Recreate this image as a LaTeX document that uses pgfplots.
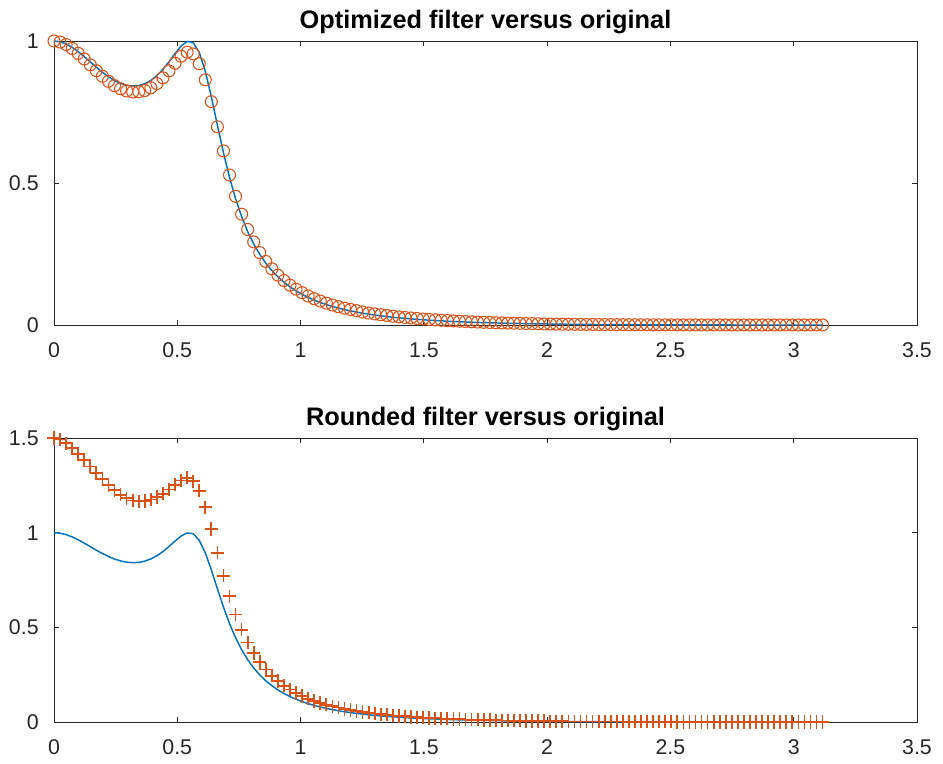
\documentclass[border=0pt]{standalone}
\usepackage{fontspec}
\setmainfont{Liberation Sans}
\usepackage{pgfplots}
\usepackage{pgfplotstable}
\pgfplotsset{compat=1.18}
\definecolor{mblue}{rgb}{0,0.447,0.741}
\definecolor{morange}{rgb}{0.85,0.325,0.098}
\definecolor{maxis}{rgb}{0.15,0.15,0.15}

% orange plus, stroke colour set explicitly
\pgfdeclareplotmark{oplus}{%
  \pgfsetstrokecolor{morange}%
  \pgfpathmoveto{\pgfqpoint{-\pgfplotmarksize}{0pt}}%
  \pgfpathlineto{\pgfqpoint{\pgfplotmarksize}{0pt}}%
  \pgfpathmoveto{\pgfqpoint{0pt}{-\pgfplotmarksize}}%
  \pgfpathlineto{\pgfqpoint{0pt}{\pgfplotmarksize}}%
  \pgfusepathqstroke}

% x = k*pi/128 ; original, optimized, rounded magnitude
\pgfplotstableread{
x orig opt rnd
0.0000 1.0000 1.0000 1.500
0.0245 0.9974 0.9964 1.492
0.0491 0.9897 0.9877 1.472
0.0736 0.9777 0.9737 1.446
0.0982 0.9624 0.9564 1.416
0.1227 0.9448 0.9368 1.384
0.1473 0.9261 0.9161 1.350
0.1718 0.9075 0.8955 1.316
0.1963 0.8899 0.8759 1.283
0.2209 0.8742 0.8582 1.252
0.2454 0.8609 0.8429 1.224
0.2700 0.8508 0.8318 1.200
0.2945 0.8441 0.8241 1.182
0.3191 0.8415 0.8205 1.170
0.3436 0.8432 0.8212 1.165
0.3682 0.8496 0.8256 1.167
0.3927 0.8612 0.8352 1.175
0.4172 0.8781 0.8501 1.188
0.4418 0.9003 0.8703 1.206
0.4663 0.9268 0.8948 1.228
0.4909 0.9556 0.9216 1.253
0.5154 0.9821 0.9461 1.276
0.5400 0.9986 0.9606 1.290
0.5645 0.9944 0.9544 1.272
0.5890 0.9600 0.9200 1.222
0.6136 0.8935 0.8635 1.134
0.6381 0.8034 0.7864 1.020
0.6627 0.7038 0.6978 0.894
0.6872 0.6071 0.6131 0.773
0.7118 0.5201 0.5281 0.664
0.7363 0.4452 0.4532 0.568
0.7609 0.3821 0.3901 0.487
0.7854 0.3294 0.3364 0.420
0.8099 0.2855 0.2925 0.364
0.8345 0.2487 0.2547 0.317
0.8590 0.2178 0.2238 0.278
0.8836 0.1917 0.1977 0.244
0.9081 0.1695 0.1755 0.216
0.9327 0.1506 0.1566 0.192
0.9572 0.1342 0.1402 0.171
0.9817 0.1201 0.1261 0.153
1.0063 0.1078 0.1138 0.137
1.0308 0.0970 0.1020 0.123
1.0554 0.0876 0.0926 0.111
1.0799 0.0793 0.0843 0.101
1.1045 0.0719 0.0769 0.091
1.1290 0.0654 0.0704 0.083
1.1536 0.0595 0.0645 0.076
1.1781 0.0543 0.0593 0.069
1.2026 0.0497 0.0547 0.063
1.2272 0.0455 0.0505 0.058
1.2517 0.0417 0.0457 0.053
1.2763 0.0382 0.0422 0.049
1.3008 0.0351 0.0391 0.045
1.3254 0.0323 0.0363 0.041
1.3499 0.0297 0.0337 0.038
1.3744 0.0274 0.0309 0.035
1.3990 0.0252 0.0287 0.032
1.4235 0.0233 0.0266 0.030
1.4481 0.0215 0.0247 0.027
1.4726 0.0199 0.0229 0.025
1.4972 0.0183 0.0211 0.023
1.5217 0.0170 0.0196 0.022
1.5463 0.0157 0.0182 0.020
1.5708 0.0145 0.0168 0.018
1.5953 0.0134 0.0155 0.017
1.6199 0.0124 0.0143 0.016
1.6444 0.0115 0.0132 0.015
1.6690 0.0106 0.0122 0.013
1.6935 0.0098 0.0112 0.012
1.7181 0.0091 0.0103 0.012
1.7426 0.0084 0.0094 0.011
1.7671 0.0078 0.0087 0.010
1.7917 0.0072 0.0080 0.009
1.8162 0.0067 0.0074 0.008
1.8408 0.0062 0.0068 0.008
1.8653 0.0057 0.0063 0.007
1.8899 0.0053 0.0058 0.007
1.9144 0.0049 0.0053 0.006
1.9390 0.0045 0.0049 0.006
1.9635 0.0041 0.0045 0.005
1.9880 0.0037 0.0037 0.005
2.0126 0.0034 0.0034 0.004
2.0371 0.0031 0.0031 0.004
2.0617 0.0029 0.0029 0.004
2.0862 0.0026 0.0026 0.003
2.1108 0.0024 0.0024 0.003
2.1353 0.0022 0.0022 0.003
2.1598 0.0020 0.0020 0.003
2.1844 0.0019 0.0019 0.002
2.2089 0.0017 0.0017 0.002
2.2335 0.0016 0.0016 0.002
2.2580 0.0014 0.0014 0.002
2.2826 0.0013 0.0013 0.002
2.3071 0.0012 0.0012 0.002
2.3317 0.0011 0.0011 0.001
2.3562 0.0009 0.0009 0.001
2.3807 0.0009 0.0009 0.001
2.4053 0.0008 0.0008 0.001
2.4298 0.0007 0.0007 0.001
2.4544 0.0006 0.0006 0.001
2.4789 0.0005 0.0005 0.001
2.5035 0.0005 0.0005 0.001
2.5280 0.0004 0.0004 0.000
2.5525 0.0004 0.0004 0.000
2.5771 0.0003 0.0003 0.000
2.6016 0.0003 0.0003 0.000
2.6262 0.0002 0.0002 0.000
2.6507 0.0002 0.0002 0.000
2.6753 0.0002 0.0002 0.000
2.6998 0.0001 0.0001 0.000
2.7243 0.0001 0.0001 0.000
2.7489 0.0001 0.0001 0.000
2.7734 0.0000 0.0000 0.000
2.7980 0.0000 0.0000 0.000
2.8225 0.0000 0.0000 0.000
2.8471 0.0000 0.0000 0.000
2.8716 0.0000 0.0000 0.000
2.8962 0.0000 0.0000 0.000
2.9207 0.0000 0.0000 0.000
2.9452 0.0000 0.0000 0.000
2.9698 0.0000 0.0000 0.000
2.9943 0.0000 0.0000 0.000
3.0189 0.0000 0.0000 0.000
3.0434 0.0000 0.0000 0.000
3.0680 0.0000 0.0000 0.000
3.0925 0.0000 0.0000 0.000
3.1170 0.0000 0.0000 0.000
}\data

\pgfplotsset{
  matlab/.style={
    scale only axis, width=647.25pt, height=213pt,
    xmin=0, xmax=3.5, xtick={0,0.5,1,1.5,2,2.5,3,3.5},
    clip=false,
    axis line style={maxis, line width=0.6pt},
    every tick/.style={maxis, line width=0.6pt},
    tick align=inside, major tick length=4pt,
    xtick pos=both, ytick pos=both,
    xticklabel pos=bottom, yticklabel pos=left,
    ticklabel style={font=\fontsize{16}{19}\selectfont, text=maxis},
    xticklabel style={yshift=-10pt},
    yticklabel style={xshift=-8pt},
    /pgf/number format/assume math mode=true,
    title style={font=\bfseries\fontsize{19}{23}\selectfont, text=black, yshift=-4pt},
  }
}

\begin{document}
\begin{tikzpicture}
  \begin{axis}[matlab, ymin=0, ymax=1, ytick={0,0.5,1},
      title={Optimized filter versus original}]
    \addplot[mblue, line width=1.1pt] table[x=x, y=orig] {\data};
    \addplot[morange, only marks, mark=o, mark size=4.5pt,
      mark options={draw=morange, line width=0.8pt}] table[x=x, y=opt] {\data};
  \end{axis}
  \begin{axis}[matlab, at={(0,-297.75pt)}, ymin=0, ymax=1.5, ytick={0,0.5,1,1.5},
      title={Rounded filter versus original}]
    \addplot[mblue, line width=1.1pt] table[x=x, y=orig] {\data};
    \addplot[morange, only marks, mark=oplus, mark size=5pt,
      mark options={draw=morange, line width=1.3pt}] table[x=x, y=rnd] {\data};
  \end{axis}
  \pgfresetboundingbox
  \path (-40.5pt,243.75pt) rectangle (666.75pt,-329.25pt);
\end{tikzpicture}
\end{document}
